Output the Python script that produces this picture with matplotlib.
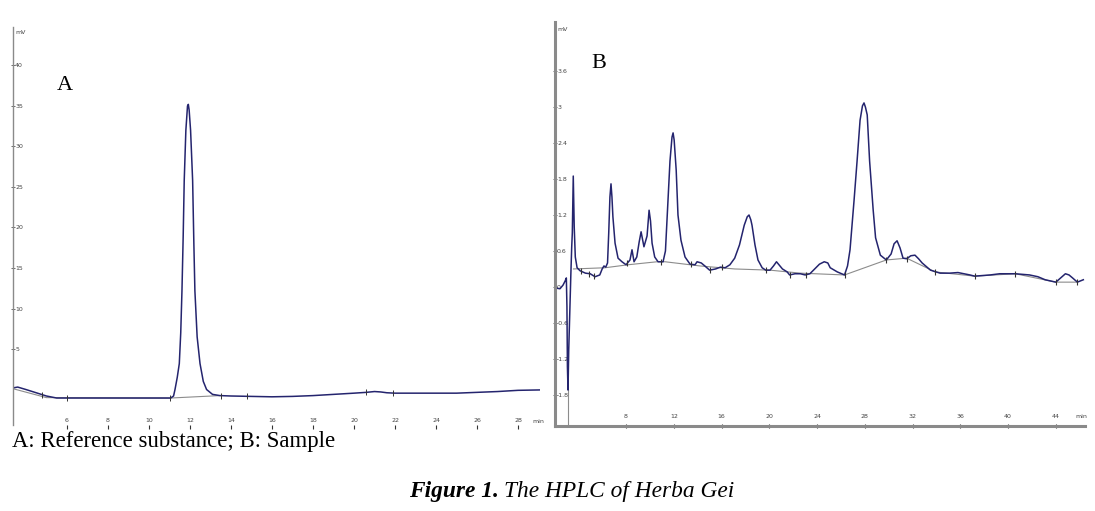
import numpy as np
import matplotlib
matplotlib.use("Agg")
import matplotlib.pyplot as plt

# ---- panel A: reference substance (time in min, signal in mV)
a_time = [3.37, 3.6, 4.0, 4.5, 5.0, 5.5, 6.0, 8.0, 10.0, 11.06, 11.2, 11.27, 11.38,
          11.48, 11.55, 11.61, 11.67, 11.72, 11.8, 11.88, 11.92, 11.96, 12.03, 12.13,
          12.19, 12.24, 12.35, 12.49, 12.65, 12.81, 13.1, 13.46, 14.0, 15.0, 16.0, 17.0,
          18.0, 19.0, 20.0, 20.6, 21.0, 21.3, 21.6, 22.0, 24.0, 25.0, 26.0, 27.0, 28.0, 29.07]
a_signal = [0.2, 0.3, 0.0, -0.4, -0.8, -1.05, -1.05, -1.05, -1.05, -1.05, -0.8, 0.0, 1.5,
            3.2, 7.0, 12.2, 19.0, 25.8, 32.0, 35.0, 35.2, 34.5, 32.0, 25.8,
            18.0, 12.2, 6.5, 3.2, 1.0, 0.0, -0.6, -0.75, -0.8, -0.85, -0.9, -0.85,
            -0.75, -0.6, -0.45, -0.35, -0.25, -0.3, -0.4, -0.45, -0.45, -0.45, -0.35, -0.25, -0.1, -0.05]
a_base_time = [3.37, 5.0, 11.06, 13.46]
a_base_signal = [0.1, -1.0, -1.05, -0.75]
a_marks = [4.8, 6.0, 11.05, 13.5, 14.8, 20.6, 21.9]
a_xticks = [6, 8, 10, 12, 14, 16, 18, 20, 22, 24, 26, 28]
a_yticks = [5, 10, 15, 20, 25, 30, 35, 40]

# ---- panel B: sample
b_time = [2.14, 2.47, 2.72, 2.9, 3.0, 3.05, 3.09, 3.14, 3.2, 3.3, 3.38, 3.45, 3.5, 3.58,
          3.66, 3.75, 3.9, 4.15, 4.6, 5.0, 5.4, 5.8, 6.0, 6.15, 6.3, 6.45, 6.55, 6.65,
          6.74, 6.82, 6.9, 7.08, 7.33, 7.66, 8.0, 8.33, 8.5, 8.67, 8.9, 9.1, 9.26, 9.5,
          9.76, 9.93, 10.05, 10.18, 10.4, 10.68, 11.1, 11.3, 11.43, 11.68, 11.85, 11.94,
          12.03, 12.2, 12.35, 12.6, 12.94, 13.36, 13.78, 13.95, 14.3, 14.6, 15.0, 15.5,
          15.9, 16.3, 16.7, 17.1, 17.5, 17.9, 18.15, 18.3, 18.45, 18.55, 18.8, 19.05,
          19.4, 19.7, 20.06, 20.35, 20.6, 20.85, 21.1, 21.5, 21.7, 22.15, 22.6, 23.0,
          23.4, 23.8, 24.2, 24.6, 24.9, 25.1, 25.7, 26.3, 26.55, 26.76, 27.1, 27.35,
          27.6, 27.8, 27.93, 28.05, 28.2, 28.4, 28.7, 28.9, 29.3, 29.8, 30.2, 30.45,
          30.7, 30.95, 31.2, 31.5, 31.85, 32.2, 32.5, 32.8, 33.5, 34.3, 35.1, 35.8,
          36.8, 37.2, 38.5, 39.3, 40.6, 41.8, 42.5, 43.1, 44.0, 44.4, 44.8, 45.1, 45.4,
          45.8, 46.05, 46.3]
b_signal = [-0.02, -0.03, 0.03, 0.1, 0.15, -0.33, -1.33, -1.72, -1.05, -0.33, 0.23, 0.67, 0.9, 1.85,
            1.0, 0.5, 0.32, 0.27, 0.23, 0.22, 0.17, 0.2, 0.3, 0.35, 0.33, 0.4, 0.9, 1.5,
            1.72, 1.5, 1.17, 0.73, 0.48, 0.42, 0.37, 0.45, 0.62, 0.42, 0.5, 0.75, 0.92, 0.67,
            0.85, 1.28, 1.1, 0.73, 0.5, 0.42, 0.42, 0.6, 1.12, 2.1, 2.5, 2.57,
            2.45, 1.95, 1.2, 0.78, 0.5, 0.38, 0.37, 0.42, 0.4, 0.35, 0.28, 0.3,
            0.33, 0.32, 0.37, 0.48, 0.7, 1.03, 1.17, 1.2, 1.12, 1.03, 0.7, 0.45,
            0.32, 0.28, 0.28, 0.35, 0.42, 0.36, 0.3, 0.25, 0.2, 0.22, 0.22, 0.2,
            0.22, 0.3, 0.38, 0.42, 0.4, 0.32, 0.25, 0.2, 0.35, 0.62, 1.45, 2.1,
            2.78, 3.02, 3.07, 3.0, 2.87, 2.1, 1.28, 0.82, 0.53, 0.45, 0.55, 0.72,
            0.77, 0.65, 0.48, 0.47, 0.52, 0.53, 0.47, 0.4, 0.28, 0.23, 0.23, 0.24,
            0.2, 0.18, 0.2, 0.22, 0.22, 0.2, 0.17, 0.12, 0.08, 0.15, 0.22, 0.2, 0.15,
            0.08, 0.1, 0.12]
b_base_time = [3.6, 6.24, 8.17, 10.6, 11.27, 14.2, 17.1, 20.06, 22.6, 26.3, 29.8, 31.5,
               33.9, 37.2, 40.6, 44.0, 45.8]
b_base_signal = [0.3, 0.32, 0.37, 0.42, 0.42, 0.35, 0.3, 0.28, 0.23, 0.2, 0.45, 0.48,
                 0.25, 0.18, 0.22, 0.08, 0.08]
b_marks = [4.2, 4.9, 5.3, 8.1, 10.9, 13.4, 15.0, 16.0, 19.7, 21.7, 23.1, 26.3, 29.8,
           31.5, 33.9, 37.2, 40.6, 44.0, 45.8]
b_xticks = [8, 12, 16, 20, 24, 28, 32, 36, 40, 44]
b_yticks = [-1.8, -1.2, -0.6, 0, 0.6, 1.2, 1.8, 2.4, 3, 3.6]
b_yticklabels = ['-1.8', '-1.2', '-0.6', '0', '0.6', '1.2', '1.8', '2.4', '3', '3.6']

line_col = '#24246e'
base_col = '#8c8c8c'
tick_col = '#444444'
W, H = 1095, 511

fig = plt.figure(figsize=(W / 100, H / 100), dpi=100)


def px_axes(left, top, right, bottom):
    return fig.add_axes([left / W, 1 - bottom / H, (right - left) / W, (bottom - top) / H])


def style(ax, xt, yt, ylabels, spine_w, xpad, xdir):
    for s in ['top', 'right']:
        ax.spines[s].set_visible(False)
    ax.spines['left'].set_color('#8a8a8a')
    ax.spines['left'].set_linewidth(spine_w)
    ax.spines['bottom'].set_color('#8a8a8a')
    ax.spines['bottom'].set_linewidth(spine_w)
    ax.set_xticks(xt)
    ax.set_xticklabels([str(v) for v in xt])
    ax.set_yticks(yt)
    ax.set_yticklabels(ylabels)
    ax.tick_params(axis='y', direction='inout', length=3, width=0.6, color='#555555',
                   labelsize=4.5, labelcolor=tick_col, pad=-3)
    ax.tick_params(axis='x', direction=xdir, length=3, width=0.8, color='#333333',
                   labelsize=4.5, labelcolor=tick_col, pad=xpad)
    for lab in ax.get_yticklabels():
        lab.set_ha('left')
    for lab in ax.get_xticklabels():
        lab.set_va('bottom')


# panel A
axA = px_axes(13, 27, 540, 425)
axA.plot(a_base_time, a_base_signal, color=base_col, lw=0.8)
axA.plot(a_time, a_signal, color=line_col, lw=1.1)
axA.plot(a_marks, np.interp(a_marks, a_time, a_signal), ls='none', marker='|',
         ms=4, mew=0.7, color='#333333')
axA.set_xlim(3.37, 29.07)
axA.set_ylim(-4.38, 44.75)
style(axA, a_xticks, a_yticks, [str(v) for v in a_yticks], 1.0, -4.5, 'out')
axA.spines['bottom'].set_visible(False)
axA.text(0.004, 44.1, 'mV', fontsize=4.5, color=tick_col, va='center',
         transform=axA.get_yaxis_transform())
axA.text(0.985, 0.003, 'min', fontsize=4.5, color=tick_col, va='bottom',
         transform=axA.transAxes)
fig.text(65 / W, 1 - 85 / H, 'A', fontsize=16, family='Liberation Serif', ha='center', va='center')

# panel B
axB = px_axes(555, 22, 1085, 426)
axB.plot(b_base_time, b_base_signal, color=base_col, lw=0.8)
axB.plot([3.14, 3.14], [-2.32, -1.72], color=base_col, lw=0.8)
axB.plot(b_time, b_signal, color=line_col, lw=1.1)
axB.plot(b_marks, np.interp(b_marks, b_time, b_signal), ls='none', marker='|',
         ms=4, mew=0.8, color='#333333')
axB.set_xlim(2.05, 46.44)
axB.set_ylim(-2.32, 4.42)
style(axB, b_xticks, b_yticks, b_yticklabels, 2.2, -6.5, 'inout')
axB.text(0.004, 4.3, 'mV', fontsize=4.5, color=tick_col, va='center',
         transform=axB.get_yaxis_transform())
axB.text(0.982, 0.018, 'min', fontsize=4.5, color=tick_col, va='bottom',
         transform=axB.transAxes)
fig.text(599 / W, 1 - 63 / H, 'B', fontsize=16, family='Liberation Serif', ha='center', va='center')

# captions
fig.text(12 / W, 1 - 441 / H, 'A: Reference substance; B: Sample', fontsize=16.4,
         family='Liberation Serif', ha='left', va='center')
fig.text(499 / W, 1 - 492 / H, 'Figure 1.', fontsize=16.8, family='Liberation Serif',
         style='italic', weight='bold', ha='right', va='center')
fig.text(504 / W, 1 - 492 / H, 'The HPLC of Herba Gei', fontsize=16.8,
         family='Liberation Serif', style='italic', ha='left', va='center')

fig.savefig('out.png', dpi=100)
